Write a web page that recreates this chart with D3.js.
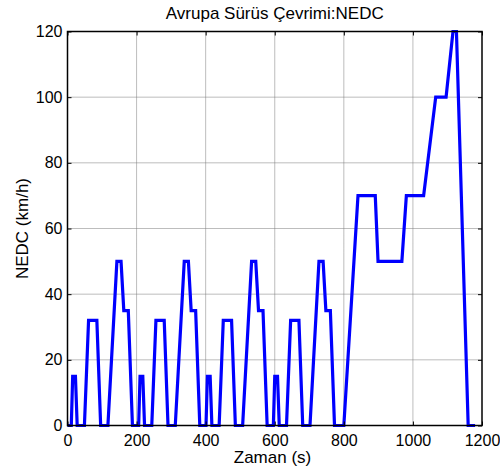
<!DOCTYPE html>
<html>
<head>
<meta charset="utf-8">
<script src="https://cdn.jsdelivr.net/npm/d3@7"></script>
<style>
  html, body { margin: 0; padding: 0; background: #fff; }
  svg { display: block; font-family: "Liberation Sans", Arial, sans-serif; }
</style>
</head>
<body>
<svg id="chart" width="500" height="470"></svg>
<script>
// ECE-15 urban segment: time (s) and speed (km/h) breakpoints, repeated 4 times
const eceTime  = [0, 11, 15, 23, 28, 49, 61, 85, 96, 117, 143, 155, 163, 176, 188, 195];
const eceSpeed = [0, 0, 15, 15, 0, 0, 32, 32, 0, 0, 50, 50, 35, 35, 0, 0];
const eceRepeats = 4;
const eceLength = 195;

// EUDC extra-urban segment, absolute time (s) and speed (km/h)
const eudcTime  = [800, 841, 891, 899, 968, 981, 1031, 1066, 1096, 1116, 1126, 1160, 1180];
const eudcSpeed = [0, 70, 70, 50, 50, 70, 70, 100, 100, 120, 120, 0, 0];

const xTicks = [0, 200, 400, 600, 800, 1000, 1200];
const yTicks = [0, 20, 40, 60, 80, 100, 120];

const titleText = "Avrupa Sürüs Çevrimi:NEDC";
const xLabel = "Zaman (s)";
const yLabel = "NEDC (km/h)";

// assemble the full cycle
const cycle = [];
for (let r = 0; r < eceRepeats; r++) {
  eceTime.forEach((t, i) => {
    if (r > 0 && i === 0) return;
    cycle.push({ t: t + r * eceLength, v: eceSpeed[i] });
  });
}
eudcTime.forEach((t, i) => cycle.push({ t, v: eudcSpeed[i] }));

const svg = d3.select("#chart");
const plotL = 67.5, plotR = 482, plotT = 31.5, plotB = 425.5;

const x = d3.scaleLinear().domain([0, 1200]).range([plotL, plotR]);
const y = d3.scaleLinear().domain([0, 120]).range([plotB, plotT]);

// grid
const grid = svg.append("g").attr("stroke", "#7a7a7a").attr("stroke-width", 1)
  .attr("stroke-dasharray", "1,1");
xTicks.slice(1, -1).forEach(t => grid.append("line")
  .attr("x1", x(t)).attr("x2", x(t)).attr("y1", plotT).attr("y2", plotB));
yTicks.slice(1, -1).forEach(t => grid.append("line")
  .attr("x1", plotL).attr("x2", plotR).attr("y1", y(t)).attr("y2", y(t)));

// data line
const line = d3.line().x(d => x(d.t)).y(d => y(d.v));
svg.append("path")
  .datum(cycle)
  .attr("d", line)
  .attr("fill", "none")
  .attr("stroke", "#0000ff")
  .attr("stroke-width", 3.2)
  .attr("stroke-linejoin", "miter");

// axes with inward ticks
const tickLen = 4;
const fmt = d3.format("d");
const xAxisB = d3.axisBottom(x).tickValues(xTicks).tickFormat(fmt).tickSizeInner(-tickLen).tickSizeOuter(0).tickPadding(9.5);
const xAxisT = d3.axisTop(x).tickValues(xTicks).tickSizeInner(-tickLen).tickSizeOuter(0).tickFormat("");
const yAxisL = d3.axisLeft(y).tickValues(yTicks).tickFormat(fmt).tickSizeInner(-tickLen).tickSizeOuter(0).tickPadding(5);
const yAxisR = d3.axisRight(y).tickValues(yTicks).tickSizeInner(-tickLen).tickSizeOuter(0).tickFormat("");

function style(g) {
  g.select(".domain").remove();
  g.selectAll("line").attr("stroke", "#000");
  g.selectAll("text").attr("font-size", 16).attr("fill", "#000")
    .attr("font-family", "Liberation Sans, Arial, sans-serif");
}
svg.append("g").attr("transform", `translate(0,${plotB})`).call(xAxisB).call(style);
svg.append("g").attr("transform", `translate(0,${plotT})`).call(xAxisT).call(style);
svg.append("g").attr("transform", `translate(${plotL},0)`).call(yAxisL).call(style);
svg.append("g").attr("transform", `translate(${plotR},0)`).call(yAxisR).call(style);

// box
svg.append("rect")
  .attr("x", plotL).attr("y", plotT)
  .attr("width", plotR - plotL).attr("height", plotB - plotT)
  .attr("fill", "none").attr("stroke", "#000").attr("stroke-width", 1.5);

// labels
svg.append("text").attr("x", (plotL + plotR) / 2).attr("y", 19)
  .attr("text-anchor", "middle").attr("font-size", 17).text(titleText);
svg.append("text").attr("x", 272.5).attr("y", 463)
  .attr("text-anchor", "middle").attr("font-size", 17).text(xLabel);
svg.append("text")
  .attr("transform", `translate(28,${(plotT + plotB) / 2}) rotate(-90)`)
  .attr("text-anchor", "middle").attr("font-size", 17).text(yLabel);
</script>
</body>
</html>
